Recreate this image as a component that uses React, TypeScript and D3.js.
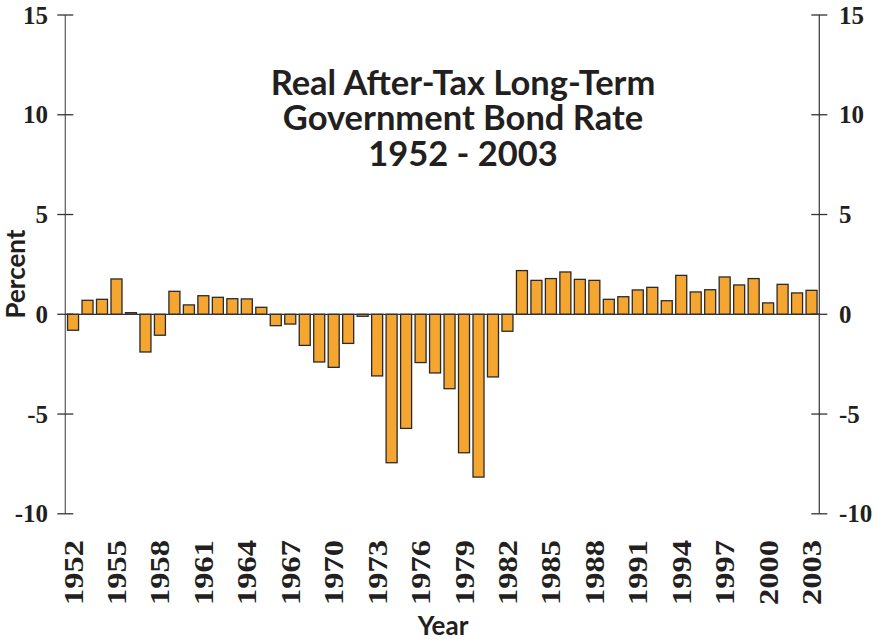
import React from "react";
import * as d3 from "d3";

const years: number[] = d3.range(1952, 2004);
const rates: number[] = [
  -0.8, 0.7, 0.75, 1.77, 0.08, -1.89, -1.05, 1.15, 0.47, 0.93,
  0.85, 0.78, 0.77, 0.35, -0.57, -0.49, -1.56, -2.39, -2.66, -1.46,
  -0.1, -3.09, -7.44, -5.72, -2.42, -2.94, -3.73, -6.94, -8.16, -3.14,
  -0.85, 2.19, 1.7, 1.79, 2.12, 1.75, 1.7, 0.75, 0.88, 1.22,
  1.35, 0.68, 1.95, 1.12, 1.23, 1.87, 1.47, 1.79, 0.57, 1.5,
  1.07, 1.2,
];
const yTicks: number[] = [15, 10, 5, 0, -5, -10];
const xTickYears: number[] = years.filter((y) => (y - 1952) % 3 === 0);
const titleLines: string[] = ["Real After-Tax Long-Term", "Government Bond Rate", "1952 - 2003"];

const W = 883;
const H = 641;
const left = 65.3;
const right = 819.3;

export default function App() {
  const x = d3
    .scaleBand<number>()
    .domain(years)
    .range([left, right])
    .paddingInner(0.24)
    .paddingOuter(0.155);
  const y = d3.scaleLinear().domain([-10, 15]).range([513.8, 15]);
  const bw = x.bandwidth();
  const serif = "'Liberation Serif', 'Times New Roman', serif";
  const humanist = "Lato, 'Open Sans', sans-serif";
  return (
    <svg
      width={W}
      height={H}
      style={{ position: "absolute", left: 0, top: 0, background: "#fff" }}
    >
      {/* title */}
      {titleLines.map((t, i) => (
        <text
          key={t}
          x={463}
          y={94.5 + i * 35.5}
          textAnchor="middle"
          fontFamily={humanist}
          fontWeight={700}
          fontSize={34.5}
          fill="#231f20"
        >
          {t}
        </text>
      ))}

      {/* bars */}
      {years.map((yr, i) => {
        const v = rates[i];
        const y0 = y(0);
        const y1 = y(v);
        return (
          <rect
            key={yr}
            x={x(yr)}
            y={Math.min(y0, y1)}
            width={bw}
            height={Math.max(Math.abs(y1 - y0), 1.5)}
            fill="#F5A630"
            stroke="#2a2a2a"
            strokeWidth={1.3}
          />
        );
      })}

      {/* zero line */}
      <line x1={left} x2={right} y1={y(0)} y2={y(0)} stroke="#333" strokeWidth={1.3} />

      {/* left axis */}
      <line x1={left} x2={left} y1={y(15)} y2={y(-10)} stroke="#666" strokeWidth={1.3} />
      {yTicks.map((t) => (
        <g key={"l" + t}>
          <line x1={left - 8} x2={left + 8} y1={y(t)} y2={y(t)} stroke="#333" strokeWidth={1.3} />
          <text
            x={48}
            y={y(t)}
            dy="0.34em"
            textAnchor="end"
            fontFamily={serif}
            fontWeight={700}
            fontSize={25}
            fill="#231f20"
          >
            {t}
          </text>
        </g>
      ))}

      {/* right axis */}
      <line x1={right} x2={right} y1={y(15)} y2={y(-10)} stroke="#444" strokeWidth={1.3} />
      {yTicks.map((t) => (
        <g key={"r" + t}>
          <line x1={right - 8} x2={right + 8} y1={y(t)} y2={y(t)} stroke="#333" strokeWidth={1.3} />
          <text
            x={839}
            y={y(t)}
            dy="0.34em"
            textAnchor="start"
            fontFamily={serif}
            fontWeight={700}
            fontSize={25}
            fill="#231f20"
          >
            {t}
          </text>
        </g>
      ))}

      {/* x tick labels */}
      {xTickYears.map((yr) => {
        const cx = (x(yr) as number) + bw / 2;
        return (
          <text
            key={"x" + yr}
            transform={`translate(${cx + 9.5},605) rotate(-90)`}
            fontFamily={serif}
            fontWeight={700}
            fontSize={28}
            textLength={65}
            lengthAdjust="spacingAndGlyphs"
            fill="#231f20"
          >
            {yr}
          </text>
        );
      })}

      {/* axis titles */}
      <text
        transform="translate(25,274) rotate(-90)"
        textAnchor="middle"
        fontFamily={humanist}
        fontWeight={700}
        fontSize={26}
        fill="#231f20"
      >
        Percent
      </text>
      <text
        x={443}
        y={635}
        textAnchor="middle"
        fontFamily={humanist}
        fontWeight={700}
        fontSize={26}
        fill="#231f20"
      >
        Year
      </text>
    </svg>
  );
}
